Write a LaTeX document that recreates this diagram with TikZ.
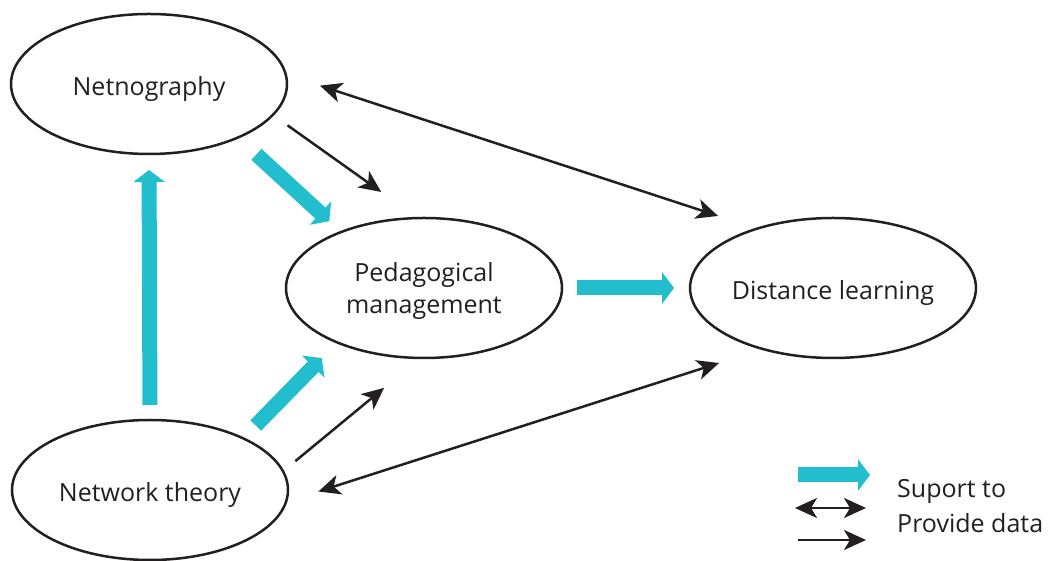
\documentclass[tikz,border=0pt]{standalone}
\usepackage{fontspec}
\setmainfont{Open Sans}
\usetikzlibrary{arrows.meta,shapes.geometric}
\definecolor{supcyan}{RGB}{34,190,206}
\definecolor{inkgray}{RGB}{35,31,32}
\begin{document}
\begin{tikzpicture}[x=1pt, y=1pt,
    >={Stealth[length=22pt, width=20pt, inset=6pt]},
    topic/.style={ellipse, draw=inkgray, line width=2.5pt, minimum width=276pt, minimum height=140pt, inner sep=0pt, outer sep=0pt, text=inkgray, align=center, font=\fontsize{25}{32}\selectfont, text depth=6pt},
    suport/.style={draw=supcyan, line width=15pt, -{Triangle[length=12pt, width=31pt, fill=supcyan]}},
    provide/.style={draw=inkgray, line width=2.5pt},
    legtext/.style={anchor=west, inner sep=0pt, text=inkgray, font=\fontsize{25}{32}\selectfont}]
    \useasboundingbox (0,0) rectangle (1048,561);
    \node[topic, text height=30pt] (netno) at (149,477) {Netnography};
    \node[topic, text height=58pt] (peda) at (424,273) {Pedagogical\\management};
    \node[topic, text height=30pt] (dist) at (833,273) {Distance learning};
    \node[topic, text height=30pt] (theory) at (150,71) {Network theory};
    % support arrows
    \draw[suport, shorten <=15pt, shorten >=16pt] (theory.north) -- (netno.south);
    \draw[suport, shorten <=25pt, shorten >=16pt] (netno.-31.7) -- (peda.146.8);
    \draw[suport, shorten <=18pt, shorten >=22pt] (theory.29.5) -- (peda.212.2);
    \draw[suport, shorten <=15pt, shorten >=16pt] (peda.east) -- (dist.west);
    % data arrows
    \draw[provide, ->, shorten <=18pt, shorten >=45pt] (netno.-14.3) -- (peda.95.9);
    \draw[provide, ->, shorten <=16pt, shorten >=47pt] (theory.8.5) -- (peda.-93.5);
    \draw[provide, <->, shorten <=36pt, shorten >=41pt] (netno.4.3) -- (dist.142.7);
    \draw[provide, <->, shorten <=34pt, shorten >=46pt] (theory.-5.7) -- (dist.221.4);
    % legend
    \coordinate (supA) at (798,86);
    \coordinate (supB) at (870,86);
    \coordinate (bothA) at (795,53);
    \coordinate (bothB) at (866,53);
    \coordinate (dataA) at (798,21);
    \coordinate (dataB) at (866,21);
    \draw[suport] (supA) -- (supB);
    \draw[provide, <->] (bothA) -- (bothB);
    \draw[provide, ->] (dataA) -- (dataB);
    \node[legtext] (legsup) at (897,70) {Suport to};
    \node[legtext] (legdat) at (897,38) {Provide data};
\end{tikzpicture}
\end{document}
